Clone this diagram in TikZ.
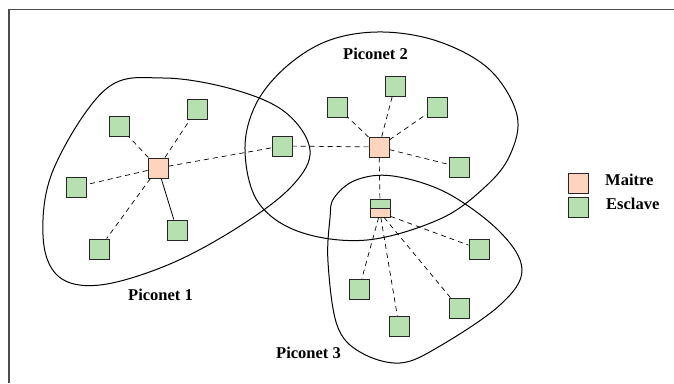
\documentclass[tikz,border=0pt]{standalone}
\usepackage{fontspec}
\setmainfont{Liberation Serif}
\definecolor{slavegreen}{RGB}{183,224,176}
\definecolor{masterpink}{RGB}{255,212,190}
\tikzset{
  slave/.style={draw=black!85, fill=slavegreen, minimum size=20pt, inner sep=0pt, line width=0.9pt},
  master/.style={draw=black!85, fill=masterpink, minimum size=20pt, inner sep=0pt, line width=0.9pt},
  link/.style={dash pattern=on 5pt off 4pt, line width=0.7pt},
  cloud/.style={line width=1pt},
  lbl/.style={font=\fontsize{16.5}{20}\selectfont\bfseries, anchor=base west, inner sep=0pt}
}
\begin{document}
\begin{tikzpicture}[x=1pt,y=-1pt]
\useasboundingbox (0,0) rectangle (674,383);
% frame
\draw[gray!60!black, line width=1.5pt] (9,383) -- (9,9.5) -- (674,9.5);
% piconets
\draw[cloud] plot[smooth cycle, tension=0.6] coordinates {(163,78) (232,89) (285,112) (310,150) (292,186) (240,226) (170,264) (100,285) (58,276) (43,235) (54,168) (106,89)};
\draw[cloud] plot[smooth cycle, tension=0.6] coordinates {(245,150) (256,104) (287,66) (330,40) (383,32) (440,42) (490,70) (517,115) (510,155) (485,187) (440,219) (367,240) (300,232) (258,202)};
\draw[cloud] plot[smooth cycle, tension=0.6] coordinates {(334,198) (356,180) (393,176) (447,193) (500,232) (522,270) (500,305) (440,346) (400,363) (360,352) (337,325) (328,262) (330,218)};
% piconet 1
\node[master] (m1) at (158,168) {};
\node[slave] (s11) at (119,126) {};
\node[slave] (s12) at (197,109) {};
\node[slave] (s13) at (76,187) {};
\node[slave] (s14) at (99,249) {};
\node[slave] (s15) at (177,230) {};
\node[slave] (br) at (282,146) {};
% piconet 2
\node[master] (m2) at (379,147) {};
\node[slave] (s21) at (337,107) {};
\node[slave] (s22) at (395,86) {};
\node[slave] (s23) at (437,107) {};
\node[slave] (s24) at (459,167) {};
% piconet 3
\node[slave, minimum height=9pt] (b3) at (380,203.5) {};
\node[master, minimum height=9pt] (m3) at (380,212.5) {};
\node[slave] (s31) at (479,249) {};
\node[slave] (s32) at (359,289) {};
\node[slave] (s33) at (459,308) {};
\node[slave] (s34) at (399,326) {};
% links
\draw[link] (m1) -- (s11);
\draw[link] (m1) -- (s12);
\draw[link] (m1) -- (s13);
\draw[link] (m1) -- (s14);
\draw[line width=0.8pt] (m1) -- (s15);
\draw[link] (m1) -- (br);
\draw[link] (m2) -- (br);
\draw[link] (m2) -- (s21);
\draw[link] (m2) -- (s22);
\draw[link] (m2) -- (s23);
\draw[link] (m2) -- (s24);
\draw[link] (m2) -- (b3);
\draw[link] (m3) -- (s31);
\draw[link] (m3) -- (s32);
\draw[link] (m3) -- (s33);
\draw[link] (m3) -- (s34);
% labels
\node[lbl] (p1) at (128,300.5) {Piconet 1};
\node[lbl] (p2) at (343,59) {Piconet 2};
\node[lbl] (p3) at (276,358) {Piconet 3};
% legend
\node[master] (lm) at (578,183) {};
\node[slave] (ls) at (578,207) {};
\node[lbl] (tm) at (605,185) {Maitre};
\node[lbl] (ts) at (606,209) {Esclave};
\end{tikzpicture}
\end{document}
